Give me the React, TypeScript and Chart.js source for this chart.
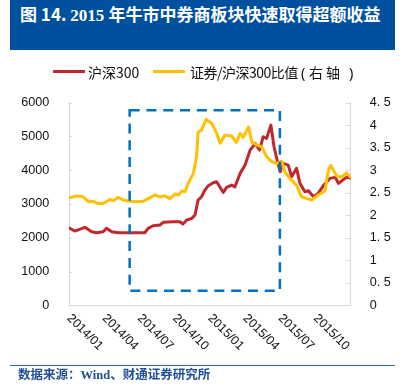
import React, { useEffect, useRef } from 'react';
import { Chart, registerables } from 'chart.js';

Chart.register(...registerables);

// ---- data ----
const xTickLabels = ['2014/01', '2014/04', '2014/07', '2014/10', '2015/01', '2015/04', '2015/07', '2015/10'];
const leftTickLabels = ['0', '1000', '2000', '3000', '4000', '5000', '6000'];
const rightTickLabels = ['0', '0. 5', '1', '1. 5', '2', '2. 5', '3', '3. 5', '4', '4. 5'];

const csiDates = [
  '2014-01-02', '2014-01-16', '2014-01-29', '2014-02-11', '2014-02-27', '2014-03-12', '2014-03-29', '2014-04-07',
  '2014-04-20', '2014-05-07', '2014-05-29', '2014-06-20', '2014-07-15', '2014-07-24', '2014-08-06', '2014-08-24',
  '2014-09-02', '2014-09-27', '2014-10-15', '2014-10-23', '2014-11-02', '2014-11-15', '2014-11-23', '2014-12-01',
  '2014-12-10', '2014-12-19', '2014-12-27', '2015-01-10', '2015-01-19', '2015-02-05', '2015-02-13', '2015-02-25',
  '2015-03-05', '2015-03-19', '2015-04-01', '2015-04-14', '2015-04-27', '2015-05-08', '2015-05-18', '2015-05-27',
  '2015-06-07', '2015-06-15', '2015-06-24', '2015-07-01', '2015-07-08', '2015-07-22', '2015-07-31', '2015-08-13',
  '2015-08-22', '2015-09-04', '2015-09-13', '2015-09-26', '2015-10-08', '2015-10-21', '2015-11-08', '2015-11-21',
  '2015-11-30', '2015-12-11', '2015-12-21', '2015-12-31',
];
const csiValues = [
  2288, 2199, 2250, 2309, 2179, 2149, 2179, 2279,
  2179, 2149, 2149, 2149, 2149, 2279, 2356, 2377,
  2457, 2475, 2475, 2406, 2525, 2575, 2673, 3117,
  3215, 3413, 3531, 3629, 3659, 3339, 3493, 3561,
  3502, 3907, 4153, 4597, 4795, 4597, 4991, 4943,
  5337, 4695, 4251, 3955, 4203, 4153, 3807, 4055,
  3611, 3363, 3392, 3215, 3315, 3531, 3759, 3789,
  3611, 3709, 3789, 3768,
];

const ratioDates = [
  '2014-01-02', '2014-01-21', '2014-02-07', '2014-02-19', '2014-03-03', '2014-03-16', '2014-03-29', '2014-04-16',
  '2014-04-24', '2014-05-07', '2014-05-20', '2014-06-07', '2014-06-24', '2014-07-11', '2014-07-24', '2014-08-11',
  '2014-08-24', '2014-09-06', '2014-09-19', '2014-10-02', '2014-10-11', '2014-10-20', '2014-10-28', '2014-11-06',
  '2014-11-19', '2014-11-27', '2014-12-01', '2014-12-10', '2014-12-22', '2015-01-06', '2015-01-19', '2015-01-28',
  '2015-02-09', '2015-02-25', '2015-03-09', '2015-03-19', '2015-03-27', '2015-04-10', '2015-04-18', '2015-05-01',
  '2015-05-14', '2015-05-27', '2015-06-09', '2015-06-22', '2015-07-05', '2015-07-13', '2015-07-26', '2015-08-13',
  '2015-08-26', '2015-09-09', '2015-09-22', '2015-10-08', '2015-10-26', '2015-11-04', '2015-11-10', '2015-11-25',
  '2015-12-08', '2015-12-21', '2015-12-31',
];
const ratioValues = [
  2.39, 2.43, 2.41, 2.30, 2.31, 2.26, 2.26, 2.35,
  2.32, 2.40, 2.34, 2.31, 2.30, 2.31, 2.37, 2.45,
  2.41, 2.43, 2.37, 2.47, 2.45, 2.54, 2.52, 2.71,
  2.93, 3.30, 3.85, 3.89, 4.13, 4.04, 3.82, 3.60,
  3.78, 3.76, 3.62, 3.82, 3.73, 3.96, 3.63, 3.56,
  3.52, 3.30, 3.19, 3.15, 3.20, 2.96, 2.82, 2.67,
  2.41, 2.37, 2.34, 2.45, 2.54, 3.00, 3.11, 2.87,
  2.85, 2.94, 2.85,
];

const highlightFrom = '2014-06-06';
const highlightTo = '2015-06-30';
const highlightLow = 430;
const highlightHigh = 5780;

// ---- helpers ----
function toMonth(d: string): number {
  const [y, m, dd] = d.split('-').map(Number);
  const dim = new Date(y, m, 0).getDate();
  return (y - 2014) * 12 + (m - 1) + (dd - 1) / dim;
}

const RED = '#C0282D';
const YELLOW = '#FFC000';
const AXIS = '#D9D9D9';

const decorPlugin = {
  id: 'decor',
  afterDatasetsDraw(chart: any) {
    const { ctx, chartArea, scales } = chart;
    const xs = scales.x, yl = scales.y, yr = scales.y1;
    ctx.save();
    // inward tick marks
    ctx.strokeStyle = AXIS;
    ctx.lineWidth = 1;
    for (let i = 0; i < leftTickLabels.length; i++) {
      const py = Math.round(yl.getPixelForValue(i * 1000)) + 0.5;
      ctx.beginPath();
      ctx.moveTo(chartArea.left, py);
      ctx.lineTo(chartArea.left + 3, py);
      ctx.stroke();
    }
    for (let i = 0; i < rightTickLabels.length; i++) {
      const py = Math.round(yr.getPixelForValue(i * 0.5)) + 0.5;
      ctx.beginPath();
      ctx.moveTo(chartArea.right - 5, py);
      ctx.lineTo(chartArea.right, py);
      ctx.stroke();
    }
    // dashed highlight box
    const x0 = xs.getPixelForValue(toMonth(highlightFrom));
    const x1 = xs.getPixelForValue(toMonth(highlightTo));
    const y0 = yl.getPixelForValue(highlightHigh);
    const y1 = yl.getPixelForValue(highlightLow);
    ctx.strokeStyle = '#0070C0';
    ctx.lineWidth = 2.5;
    ctx.setLineDash([10, 6.8]);
    ctx.strokeRect(x0, y0, x1 - x0, y1 - y0);
    ctx.setLineDash([]);
    // rotated x labels
    ctx.fillStyle = '#111';
    ctx.font = '12.5px "Liberation Sans", Arial, sans-serif';
    ctx.textAlign = 'left';
    ctx.textBaseline = 'middle';
    xTickLabels.forEach((lab, i) => {
      const px = xs.getPixelForValue(i * 3);
      ctx.save();
      ctx.translate(px, chartArea.bottom + 11);
      ctx.rotate(Math.PI / 4);
      ctx.fillText(lab, 0, 0);
      ctx.restore();
    });
    ctx.restore();
  },
};

export default function App() {
  const ref = useRef<HTMLCanvasElement>(null);

  useEffect(() => {
    const chart = new Chart(ref.current as HTMLCanvasElement, {
      type: 'line',
      data: {
        datasets: [
          {
            label: '沪深300',
            data: csiDates.map((d, i) => ({ x: toMonth(d), y: csiValues[i] })),
            borderColor: RED,
            backgroundColor: RED,
            borderWidth: 3,
            pointRadius: 0,
            tension: 0,
            yAxisID: 'y',
            order: 2,
            borderJoinStyle: 'round',
            borderCapStyle: 'round',
          },
          {
            label: '证券/沪深300比值（右轴）',
            data: ratioDates.map((d, i) => ({ x: toMonth(d), y: ratioValues[i] })),
            borderColor: YELLOW,
            backgroundColor: YELLOW,
            borderWidth: 3,
            pointRadius: 0,
            tension: 0,
            yAxisID: 'y1',
            order: 1,
            borderJoinStyle: 'round',
            borderCapStyle: 'round',
          },
        ],
      },
      options: {
        responsive: false,
        animation: false,
        layout: { padding: { top: 102.7, left: 0, right: 0, bottom: 0 } },
        plugins: { legend: { display: false }, tooltip: { enabled: false } },
        scales: {
          x: {
            type: 'linear',
            min: 0,
            max: 24,
            position: 'bottom',
            ticks: { display: false },
            grid: { display: false },
            border: { display: true, color: AXIS, width: 1 },
            afterFit: (s: any) => { s.height = 390 - 305.3; },
          },
          y: {
            position: 'left',
            min: 0,
            max: 6000,
            ticks: {
              stepSize: 1000,
              padding: 11.7,
              color: '#111',
              font: { family: '"Liberation Sans", Arial, sans-serif', size: 12.6 },
              callback: (_v: any, i: number) => leftTickLabels[i],
            },
            grid: { display: false },
            border: { display: true, color: AXIS, width: 1 },
            afterFit: (s: any) => { s.width = 69; },
          },
          y1: {
            position: 'right',
            min: 0,
            max: 4.5,
            ticks: {
              stepSize: 0.5,
              padding: 11,
              color: '#111',
              font: { family: '"Liberation Sans", Arial, sans-serif', size: 12.6 },
              callback: (_v: any, i: number) => rightTickLabels[i],
            },
            grid: { display: false },
            border: { display: true, color: AXIS, width: 1 },
            afterFit: (s: any) => { s.width = 405 - 350.7; },
          },
        },
      },
      plugins: [decorPlugin],
    } as any);
    return () => chart.destroy();
  }, []);

  const cjk = '"Noto Sans CJK SC", "Noto Sans", sans-serif';
  const serif = '"Liberation Serif", "Times New Roman", serif';
  const legendText: any = {
    position: 'absolute', top: 63.7, lineHeight: '16px', fontSize: 14, fontFamily: cjk, color: '#111',
    whiteSpace: 'nowrap',
  };
  const parenText: any = { ...legendText, fontFamily: '"Noto Sans", "DejaVu Sans", sans-serif', fontSize: 14.5 };

  return (
    <div style={{ position: 'absolute', left: 0, top: 0, width: 405, height: 390, background: '#fff', overflow: 'hidden' }}>
      <canvas ref={ref} width={405} height={390} style={{ position: 'absolute', left: 0, top: 0 }} />
      <div style={{ position: 'absolute', left: 10, top: 0, width: 385, height: 50, background: '#0050A0' }} />
      <div
        style={{
          position: 'absolute', left: 20, top: 4, height: 20, lineHeight: '20px', whiteSpace: 'nowrap',
          color: '#fff', fontWeight: 700, fontSize: 17, fontFamily: cjk,
        }}
      >
        <span>图 14. </span>
        <span style={{ fontFamily: serif }}>2015 </span>
        <span>年牛市中券商板块快速取得超额收益</span>
      </div>

      <div style={{ position: 'absolute', left: 53, top: 70.2, width: 32, height: 3, background: RED }} />
      <div style={{ ...legendText, left: 88 }}>沪深300</div>
      <div style={{ position: 'absolute', left: 153, top: 70.2, width: 32, height: 3, background: YELLOW }} />
      <div style={{ ...legendText, left: 190, letterSpacing: -0.5 }}>证券/沪深300比值</div>
      <div style={{ ...parenText, left: 301 }}>(</div>
      <div style={{ ...legendText, left: 309 }}>右</div>
      <div style={{ ...legendText, left: 326 }}>轴</div>
      <div style={{ ...parenText, left: 349 }}>)</div>

      <div style={{ position: 'absolute', left: 10, top: 364.5, width: 385, height: 1, background: '#2E6DB4' }} />
      <div
        style={{
          position: 'absolute', left: 18, top: 367, lineHeight: '14px', fontSize: 12.5, fontWeight: 700,
          fontFamily: cjk, color: '#1F4E9A', whiteSpace: 'nowrap',
        }}
      >
        数据来源：<span style={{ fontFamily: serif }}>Wind</span>、财通证券研究所
      </div>
    </div>
  );
}
